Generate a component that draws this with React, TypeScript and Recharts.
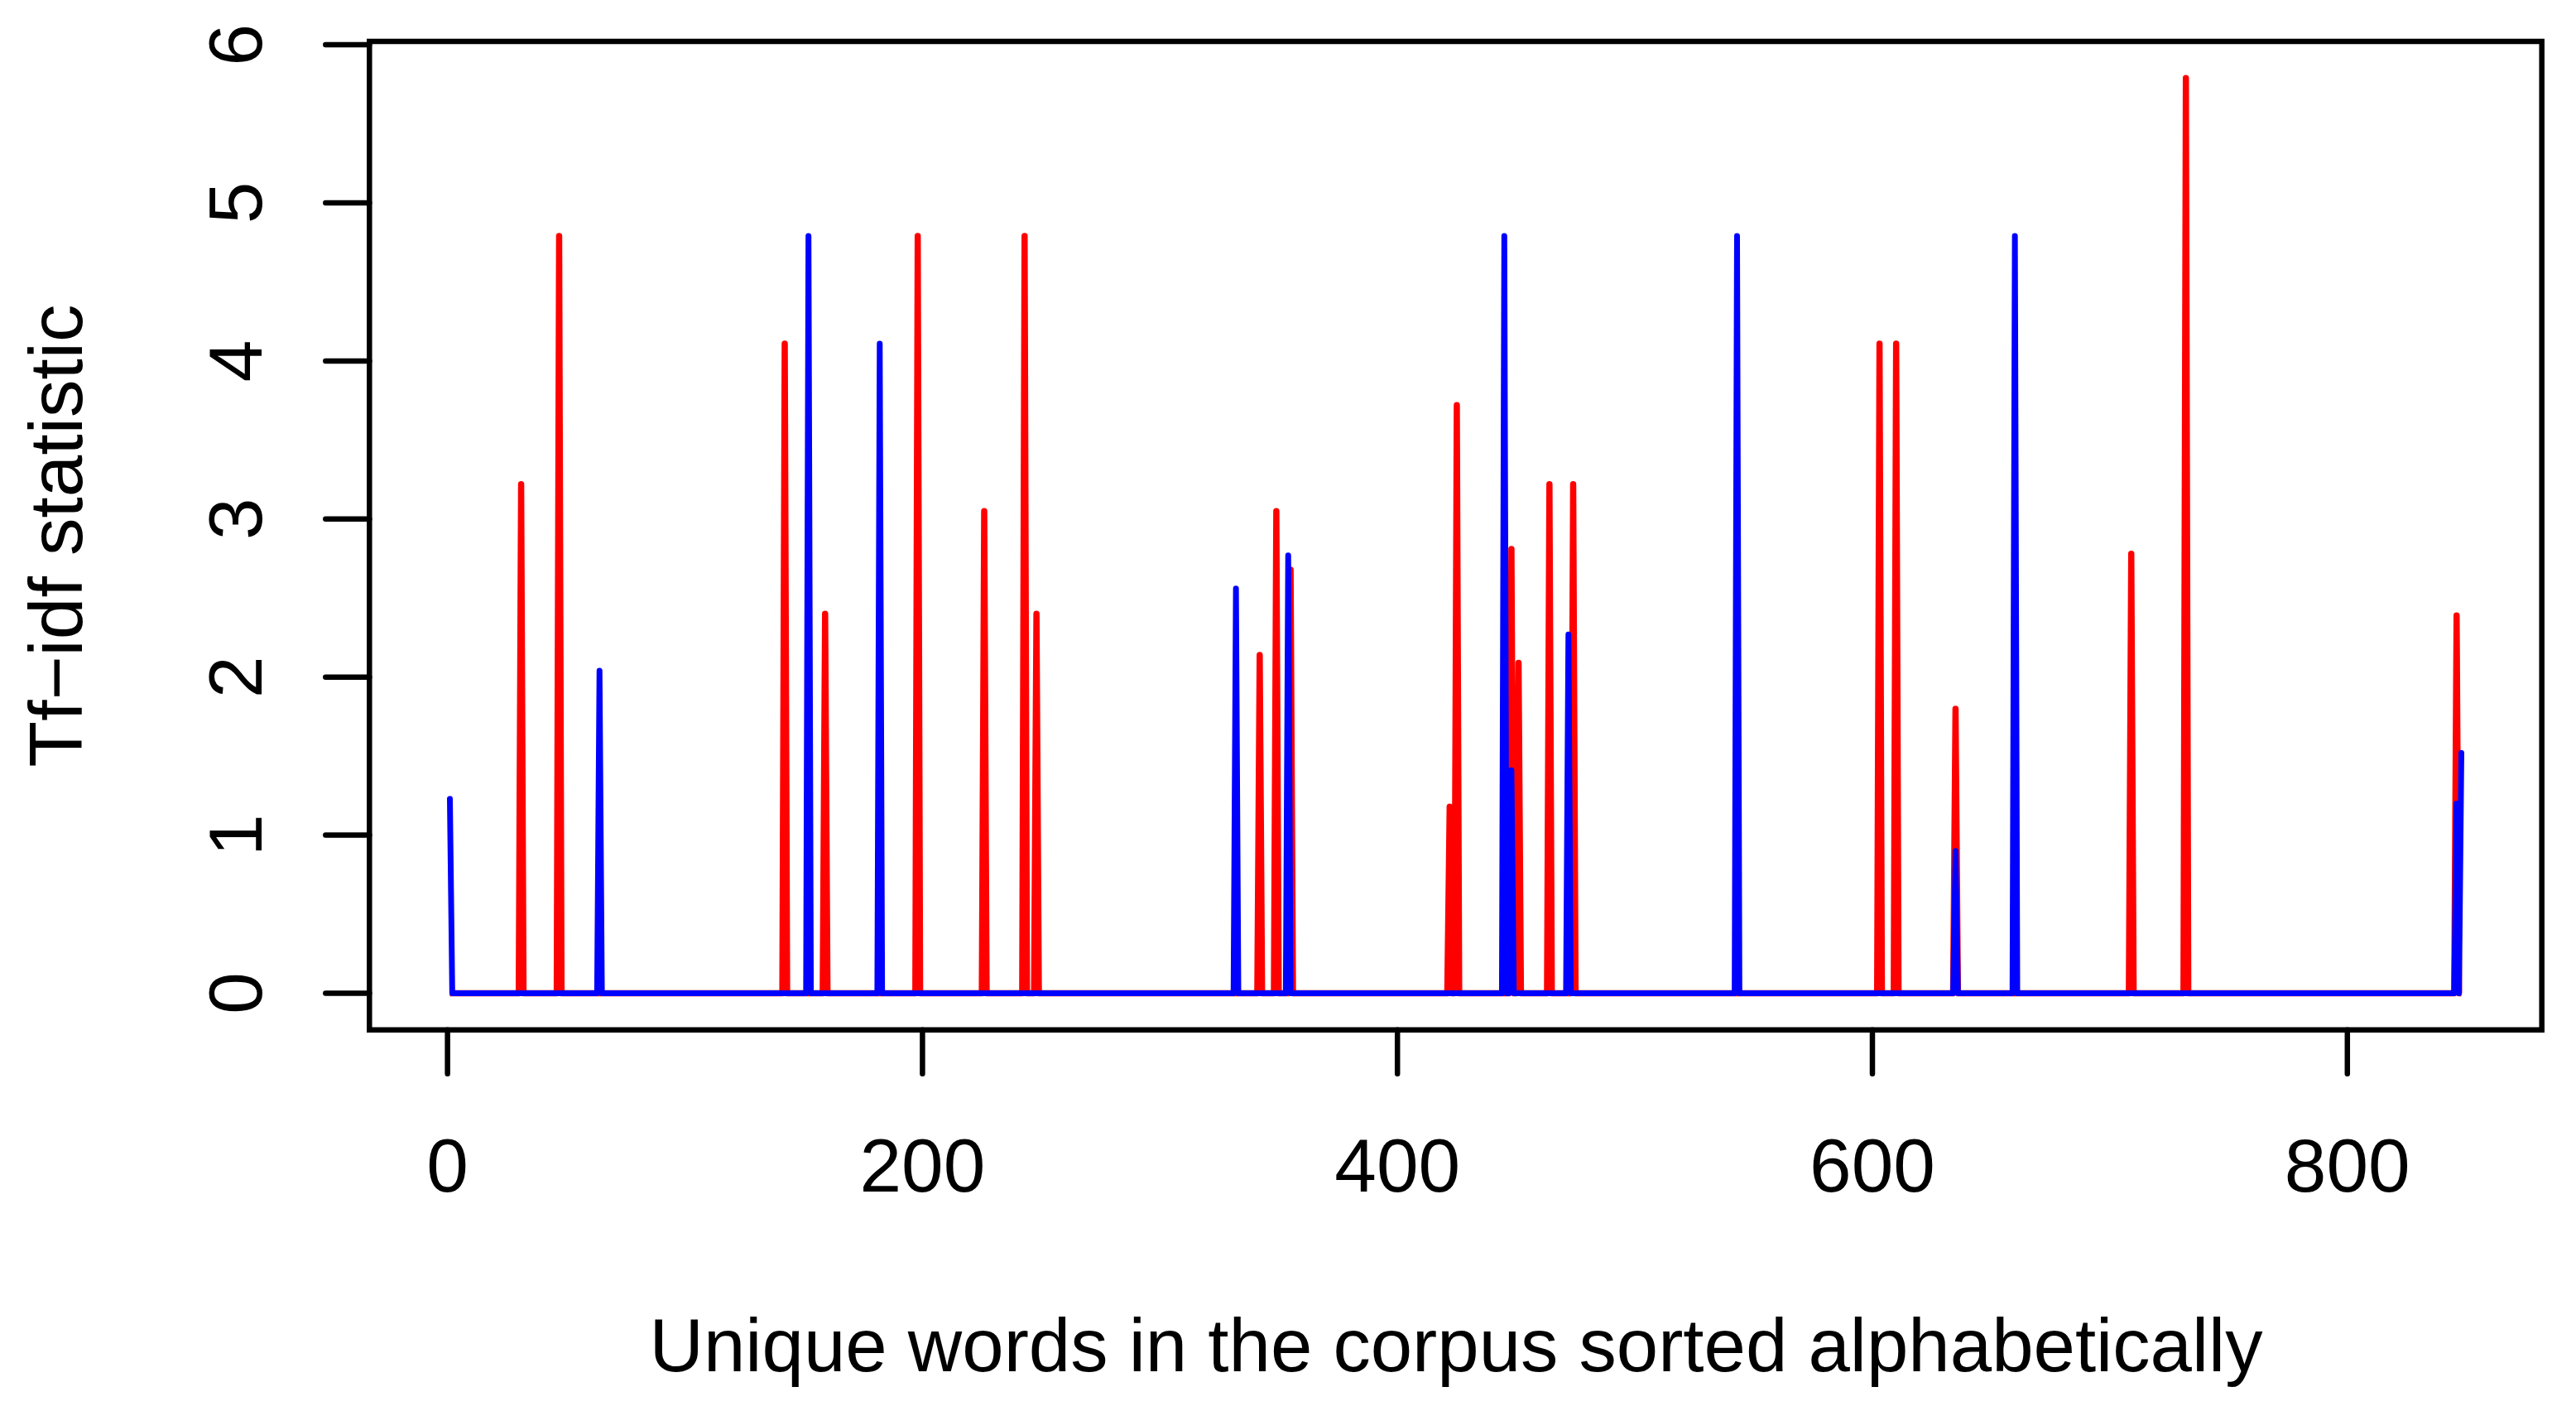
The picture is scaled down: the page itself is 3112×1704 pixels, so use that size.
import React from 'react';
import { LineChart, Line, XAxis, YAxis, ReferenceArea } from 'recharts';

// Number of unique words (x runs 1..N)
const N = 848;

// Document 1 (red): nonzero tf-idf positions and values
const redIdx = [31, 47, 142, 159, 198, 226, 243, 248, 342, 349, 355, 422, 425, 448, 451, 464, 474, 603, 610, 635, 709, 732, 846];
const redVal = [3.22, 4.79, 4.11, 2.4, 4.79, 3.05, 4.79, 2.4, 2.14, 3.05, 2.68, 1.18, 3.72, 2.81, 2.09, 3.22, 3.22, 4.11, 4.11, 1.8, 2.78, 5.79, 2.39];

// Document 2 (blue): nonzero tf-idf positions and values
const blueIdx = [1, 64, 152, 182, 332, 354, 445, 448, 472, 543, 635, 660, 846, 848];
const blueVal = [1.23, 2.04, 4.79, 4.11, 2.56, 2.77, 4.79, 1.41, 2.27, 4.79, 0.9, 4.79, 1.2, 1.52];

const xTicks = [0, 200, 400, 600, 800];
const yTicks = [0, 1, 2, 3, 4, 5, 6];

const xTitle = 'Unique words in the corpus sorted alphabetically';
const yTitle = 'Tf\u2212idf statistic';

// axis ranges (R-style 4% expansion)
const XMIN = 1 - 0.04 * (N - 1);
const XMAX = N + 0.04 * (N - 1);
const YMAX_DATA = 5.79;
const YMIN = -0.04 * YMAX_DATA;
const YMAX = YMAX_DATA * 1.04;

const data = (() => {
  const rows = [];
  for (let k = 1; k <= N; k++) rows.push({ idx: k, red: 0, blue: 0 });
  redIdx.forEach((i, j) => { rows[i - 1].red = redVal[j]; });
  blueIdx.forEach((i, j) => { rows[i - 1].blue = blueVal[j]; });
  return rows;
})();

const FONT = '"Liberation Sans", Arial, Helvetica, sans-serif';
const FS = 91;

const XTick = (props: any) => {
  const { x, payload } = props;
  return (
    <text x={x} y={1438.5} textAnchor="middle" fontFamily={FONT} fontSize={FS} fill="#000">
      {payload.value}
    </text>
  );
};

const YTick = (props: any) => {
  const { y, payload } = props;
  const bx = 316;
  return (
    <text x={bx} y={y} transform={`rotate(-90 ${bx} ${y})`} textAnchor="middle" fontFamily={FONT} fontSize={FS} fill="#000">
      {payload.value}
    </text>
  );
};

const XTitle = () => (
  <text x={1759} y={1656} textAnchor="middle" fontFamily={FONT} fontSize={90.6} fill="#000">
    {xTitle}
  </text>
);

const YTitle = () => (
  <text x={99} y={647} transform="rotate(-90 99 647)" textAnchor="middle" fontFamily={FONT} fontSize={FS} fill="#000">
    {yTitle}
  </text>
);

export default function App() {
  return (
    <div style={{ position: 'absolute', left: 0, top: 0, background: '#fff' }}>
      <LineChart width={3112} height={1704} data={data} margin={{ top: 50, right: 41.3, bottom: 0, left: 0 }}>
        <XAxis
          dataKey="idx"
          type="number"
          domain={[XMIN, XMAX]}
          ticks={xTicks}
          allowDataOverflow
          height={460.3}
          axisLine={false}
          tickSize={53}
          tickLine={{ stroke: '#000', strokeWidth: 6.5, strokeLinecap: 'round' }}
          tick={<XTick />}
          interval={0}
          label={<XTitle />}
        />
        <YAxis
          type="number"
          domain={[YMIN, YMAX]}
          ticks={yTicks}
          allowDataOverflow
          width={446.3}
          axisLine={false}
          tickSize={53}
          tickLine={{ stroke: '#000', strokeWidth: 6.5, strokeLinecap: 'round' }}
          tick={<YTick />}
          interval={0}
          label={<YTitle />}
        />
        <Line
          type="linear"
          dataKey="red"
          stroke="#FF0000"
          strokeWidth={7.5}
          strokeLinejoin="round"
          strokeLinecap="butt"
          dot={false}
          activeDot={false}
          isAnimationActive={false}
        />
        <Line
          type="linear"
          dataKey="blue"
          stroke="#0000FF"
          strokeWidth={7}
          strokeLinejoin="round"
          strokeLinecap="round"
          dot={false}
          activeDot={false}
          isAnimationActive={false}
        />
        <ReferenceArea
          x1={XMIN}
          x2={XMAX}
          y1={YMIN}
          y2={YMAX}
          fill="none"
          fillOpacity={0}
          stroke="#000"
          strokeWidth={6.5}
          ifOverflow="visible"
        />
      </LineChart>
    </div>
  );
}
